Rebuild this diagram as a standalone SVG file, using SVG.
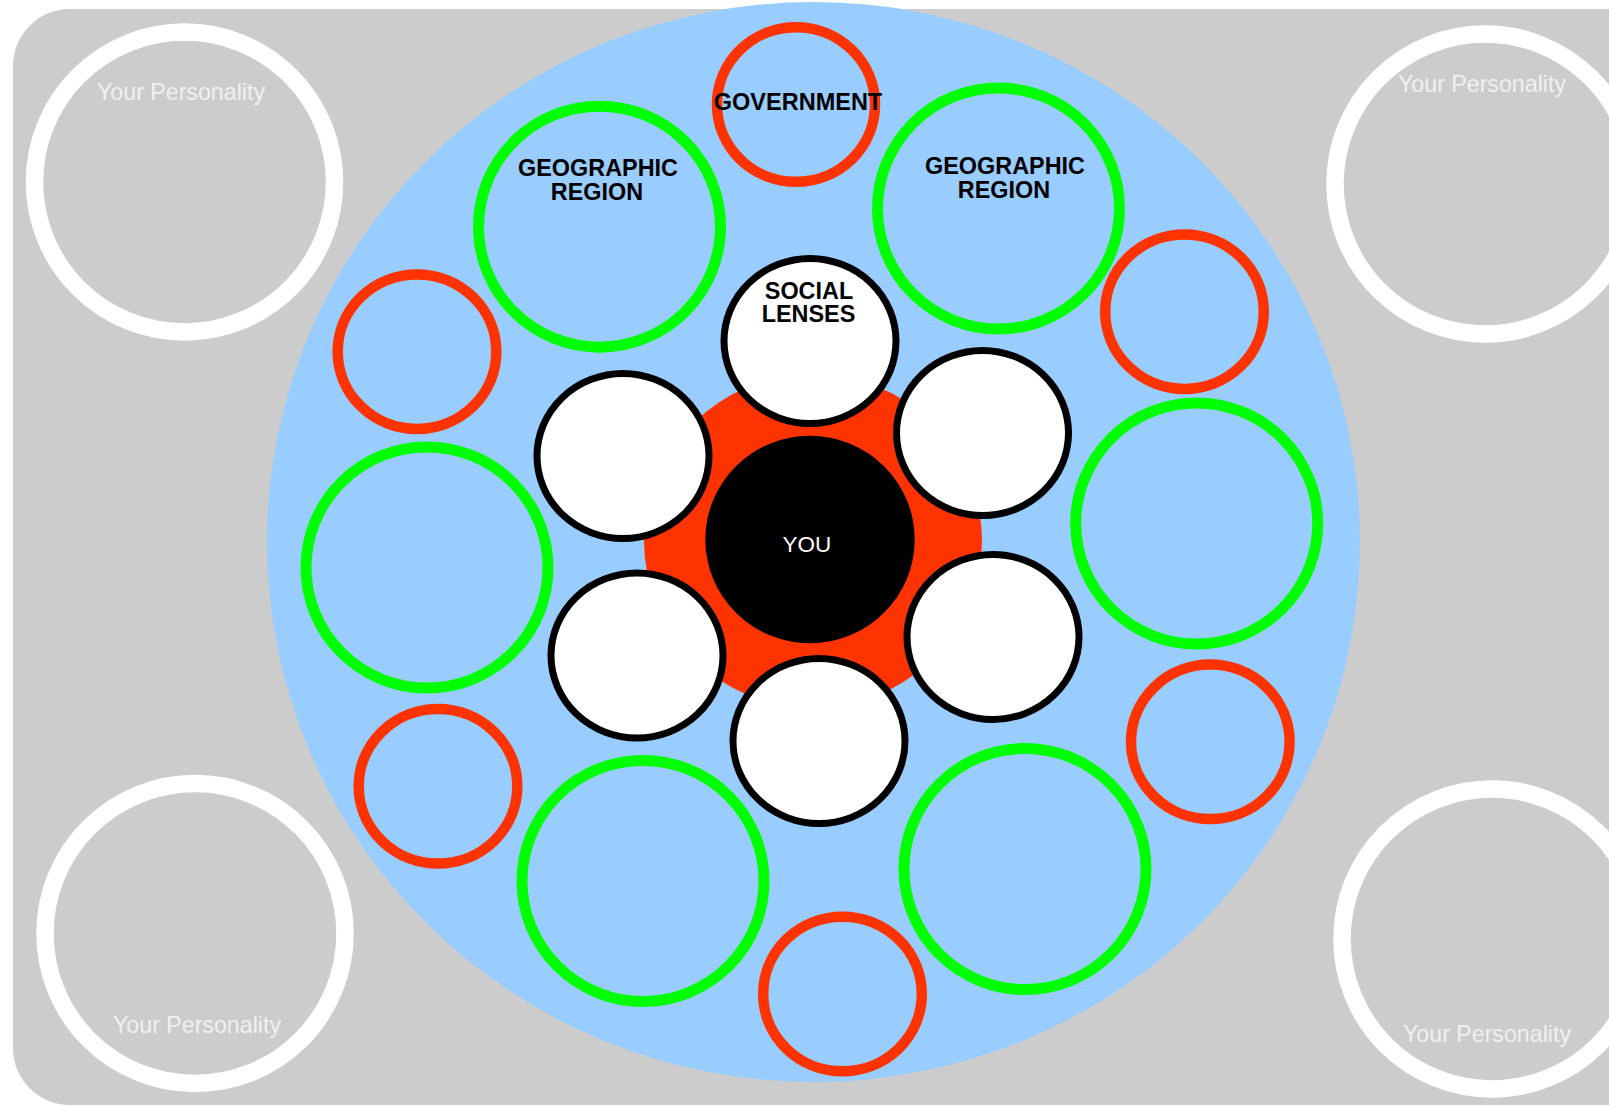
<svg xmlns="http://www.w3.org/2000/svg" width="1609" height="1106" viewBox="0 0 1609 1106">
<style>
.bg{fill:#cccccc}
.ring-w{fill:none;stroke:#ffffff;stroke-width:17.5}
.ring-g{fill:none;stroke:#00ff00;stroke-width:11}
.ring-r{fill:none;stroke:#ff3300;stroke-width:10.5}
.lens{fill:#ffffff;stroke:#000000;stroke-width:7}
.pers{font-family:"Liberation Sans",Arial,sans-serif;font-size:23.2px;fill:#f0f0f0;text-anchor:middle}
.lbl{font-family:"Liberation Sans",Arial,sans-serif;font-size:23.4px;font-weight:bold;fill:#000000;text-anchor:middle}
.you{font-family:"Liberation Sans",Arial,sans-serif;font-size:22.5px;fill:#ffffff;text-anchor:middle}
</style>
<rect class="bg" x="13" y="9" width="1700" height="1096" rx="57" ry="57"/>

<g id="personality-tl"><circle class="ring-w" cx="184.5" cy="182" r="150"/><text class="pers" x="181" y="100">Your Personality</text></g>
<g id="personality-tr"><circle class="ring-w" cx="1485" cy="184" r="150"/><text class="pers" x="1482" y="92">Your Personality</text></g>
<g id="personality-bl"><circle class="ring-w" cx="195" cy="933.5" r="150"/><text class="pers" x="197" y="1033">Your Personality</text></g>
<g id="personality-br"><circle class="ring-w" cx="1492" cy="939" r="150"/><text class="pers" x="1487" y="1042">Your Personality</text></g>

<g id="world"><ellipse cx="813.5" cy="542" rx="546.5" ry="540" fill="#99ccff"/></g>
<g id="core"><ellipse cx="813" cy="541" rx="169" ry="167" fill="#ff3300"/></g>
<g id="you"><ellipse cx="810" cy="539.5" rx="104.7" ry="103.7" fill="#000000"/><text class="you" x="807" y="552">YOU</text></g>

<g id="lens-top"><ellipse class="lens" cx="810" cy="341" rx="86" ry="82.5"/><text class="lbl" x="809" y="298.5">SOCIAL</text><text class="lbl" x="808.5" y="322">LENSES</text></g>
<g id="lens-ul"><ellipse class="lens" cx="623" cy="456" rx="86" ry="82.5"/></g>
<g id="lens-ur"><ellipse class="lens" cx="982.5" cy="433" rx="86" ry="82.5"/></g>
<g id="lens-ll"><ellipse class="lens" cx="637" cy="655.5" rx="86" ry="82.5"/></g>
<g id="lens-lr"><ellipse class="lens" cx="993" cy="637" rx="86" ry="82.5"/></g>
<g id="lens-b"><ellipse class="lens" cx="819" cy="741" rx="86" ry="82.5"/></g>

<g id="gov"><ellipse class="ring-r" cx="796" cy="104.5" rx="79" ry="77.3"/><text class="lbl" x="798" y="110" style="font-size:23.5px">GOVERNMENT</text></g>
<g id="geo-left"><ellipse class="ring-g" cx="599.5" cy="226.7" rx="121" ry="120.5"/><text class="lbl" x="598" y="176">GEOGRAPHIC</text><text class="lbl" x="597" y="199.5">REGION</text></g>
<g id="geo-right"><ellipse class="ring-g" cx="998.5" cy="208.5" rx="121" ry="120.5"/><text class="lbl" x="1005" y="174">GEOGRAPHIC</text><text class="lbl" x="1004" y="197.5">REGION</text></g>

<g id="red-ul"><ellipse class="ring-r" cx="417" cy="351.7" rx="79.3" ry="77.3"/></g>
<g id="red-ll"><ellipse class="ring-r" cx="438" cy="786.3" rx="79.3" ry="77.3"/></g>
<g id="red-b"><ellipse class="ring-r" cx="842.5" cy="994" rx="79.3" ry="77.3"/></g>
<g id="red-ur"><ellipse class="ring-r" cx="1184.5" cy="311.7" rx="79.3" ry="77.3"/></g>
<g id="red-lr"><ellipse class="ring-r" cx="1210.3" cy="741.8" rx="79.3" ry="77.3"/></g>

<g id="green-l"><ellipse class="ring-g" cx="427" cy="567.5" rx="121" ry="120.5"/></g>
<g id="green-r"><ellipse class="ring-g" cx="1196.7" cy="523.5" rx="121" ry="120.5"/></g>
<g id="green-bl"><ellipse class="ring-g" cx="643" cy="881" rx="121" ry="120.5"/></g>
<g id="green-br"><ellipse class="ring-g" cx="1025" cy="869" rx="121" ry="120.5"/></g>

<g id="connectors"/>
</svg>
